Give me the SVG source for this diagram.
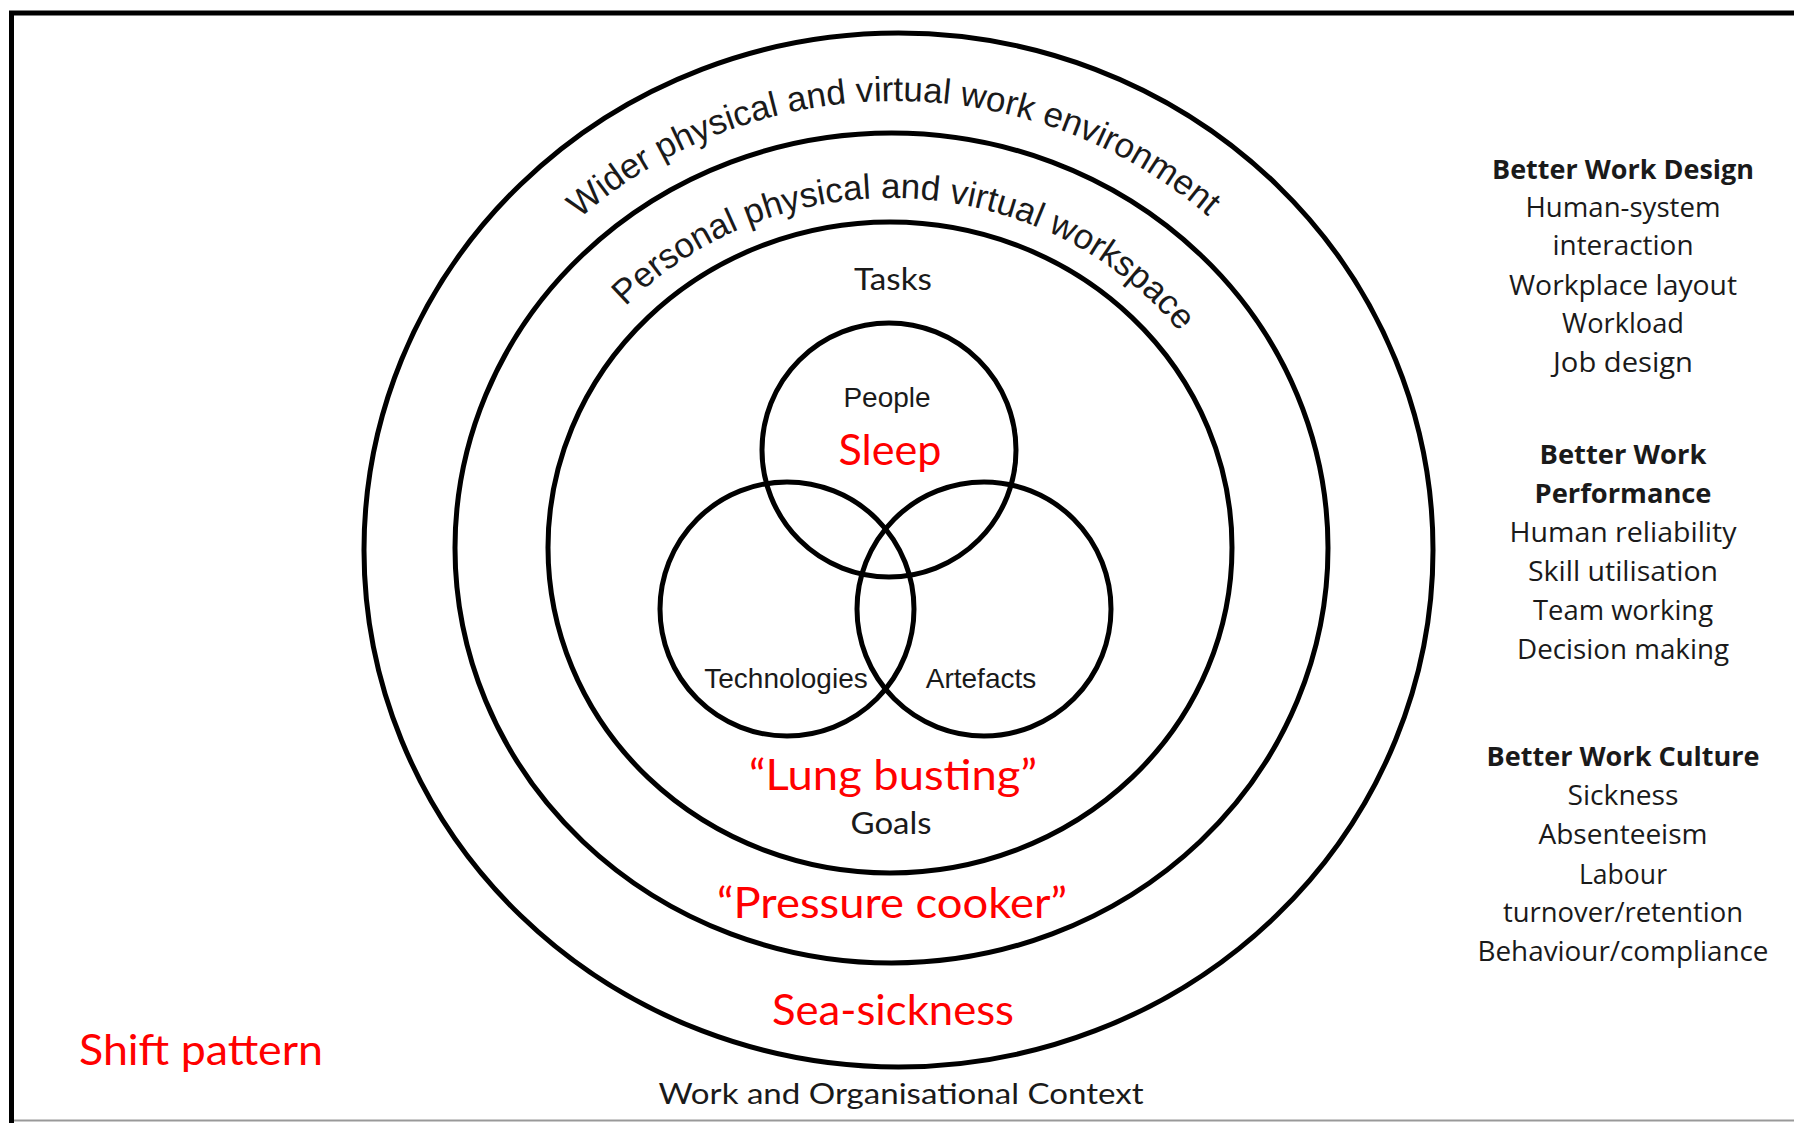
<svg xmlns="http://www.w3.org/2000/svg" width="1794" height="1123" viewBox="0 0 1794 1123">
<defs>
<style>
.ring{fill:none;stroke:#000;stroke-width:5}
.venn{fill:none;stroke:#000;stroke-width:5}
.arial{font-family:"Liberation Sans",Arial,sans-serif;fill:#1a1a1a}
.cal{font-family:Lato,"Open Sans",sans-serif;fill:#1a1a1a}
.red{font-family:Lato,"Open Sans",sans-serif;fill:#ff0000;font-size:42px}
.side{font-family:"Open Sans",Lato,sans-serif;fill:#1a1a1a;font-size:27px;text-anchor:middle}
.b{font-weight:bold}
</style>
<path id="arcOuter" d="M 428,549 A 467,448 0 0 1 1362,549"/>
<path id="arcInner" d="M 524,548 A 367,350 0 0 1 1258,548"/>
</defs>
<rect width="1794" height="1123" fill="#fff"/>
<g id="frame">
<line x1="9" y1="13" x2="1794" y2="13" stroke="#000" stroke-width="5"/>
<line x1="11.5" y1="11" x2="11.5" y2="1123" stroke="#000" stroke-width="5"/>
<line x1="14" y1="1120.5" x2="1794" y2="1120.5" stroke="#999" stroke-width="2"/>
</g>
<g id="connectors"></g>
<g id="ring-context">
<ellipse class="ring" cx="898.5" cy="550" rx="534.5" ry="517"/>
<text class="arial" font-size="35"><textPath href="#arcOuter" startOffset="717" text-anchor="middle">Wider physical and virtual work environment</textPath></text>
</g>
<g id="ring-workspace">
<ellipse class="ring" cx="891.5" cy="548" rx="436.5" ry="415"/>
<text class="arial" font-size="35"><textPath href="#arcInner" startOffset="580" text-anchor="middle">Personal physical and virtual workspace</textPath></text>
</g>
<g id="ring-tasks">
<ellipse class="ring" cx="890" cy="547.5" rx="342" ry="325.5"/>
<text class="cal" x="893" y="290" font-size="30" text-anchor="middle" textLength="78" lengthAdjust="spacingAndGlyphs">Tasks</text>
<text class="cal" x="891" y="834" font-size="30" text-anchor="middle" textLength="81" lengthAdjust="spacingAndGlyphs">Goals</text>
</g>
<g id="people">
<circle class="venn" cx="889" cy="450" r="127"/>
<text class="arial" x="887" y="407" font-size="28" text-anchor="middle">People</text>
</g>
<g id="technologies">
<circle class="venn" cx="787" cy="609" r="127"/>
<text class="arial" x="786" y="688" font-size="28" text-anchor="middle">Technologies</text>
</g>
<g id="artefacts">
<circle class="venn" cx="984" cy="609" r="127"/>
<text class="arial" x="981" y="688" font-size="28" text-anchor="middle">Artefacts</text>
</g>
<g id="red-labels">
<text class="red" x="890" y="465" text-anchor="middle" textLength="103" lengthAdjust="spacingAndGlyphs">Sleep</text>
<text class="red" x="893" y="790" text-anchor="middle" textLength="288" lengthAdjust="spacingAndGlyphs">“Lung busting”</text>
<text class="red" x="892" y="918" text-anchor="middle" textLength="350" lengthAdjust="spacingAndGlyphs">“Pressure cooker”</text>
<text class="red" x="893" y="1025" text-anchor="middle" textLength="242" lengthAdjust="spacingAndGlyphs">Sea-sickness</text>
<text class="red" x="201" y="1065" text-anchor="middle" textLength="244" lengthAdjust="spacingAndGlyphs">Shift pattern</text>
</g>
<g id="context-label">
<text class="cal" x="901" y="1104" font-size="29" text-anchor="middle" textLength="485" lengthAdjust="spacingAndGlyphs">Work and Organisational Context</text>
</g>
<g id="outcomes-design">
<text class="side b" x="1623" y="179" textLength="262" lengthAdjust="spacingAndGlyphs">Better Work Design</text>
<text class="side" x="1623" y="217" textLength="195" lengthAdjust="spacingAndGlyphs">Human-system</text>
<text class="side" x="1623" y="255" textLength="141" lengthAdjust="spacingAndGlyphs">interaction</text>
<text class="side" x="1623" y="295" textLength="228" lengthAdjust="spacingAndGlyphs">Workplace layout</text>
<text class="side" x="1623" y="333" textLength="122" lengthAdjust="spacingAndGlyphs">Workload</text>
<text class="side" x="1623" y="372" textLength="140" lengthAdjust="spacingAndGlyphs">Job design</text>
</g>
<g id="outcomes-performance">
<text class="side b" x="1623" y="464" textLength="167" lengthAdjust="spacingAndGlyphs">Better Work</text>
<text class="side b" x="1623" y="503" textLength="177" lengthAdjust="spacingAndGlyphs">Performance</text>
<text class="side" x="1623" y="542" textLength="227" lengthAdjust="spacingAndGlyphs">Human reliability</text>
<text class="side" x="1623" y="581" textLength="190" lengthAdjust="spacingAndGlyphs">Skill utilisation</text>
<text class="side" x="1623" y="620" textLength="180" lengthAdjust="spacingAndGlyphs">Team working</text>
<text class="side" x="1623" y="659" textLength="212" lengthAdjust="spacingAndGlyphs">Decision making</text>
</g>
<g id="outcomes-culture">
<text class="side b" x="1623" y="766" textLength="273" lengthAdjust="spacingAndGlyphs">Better Work Culture</text>
<text class="side" x="1623" y="805" textLength="111" lengthAdjust="spacingAndGlyphs">Sickness</text>
<text class="side" x="1623" y="844" textLength="169" lengthAdjust="spacingAndGlyphs">Absenteeism</text>
<text class="side" x="1623" y="884" textLength="88" lengthAdjust="spacingAndGlyphs">Labour</text>
<text class="side" x="1623" y="922" textLength="240" lengthAdjust="spacingAndGlyphs">turnover/retention</text>
<text class="side" x="1623" y="961" textLength="291" lengthAdjust="spacingAndGlyphs">Behaviour/compliance</text>
</g>
</svg>
